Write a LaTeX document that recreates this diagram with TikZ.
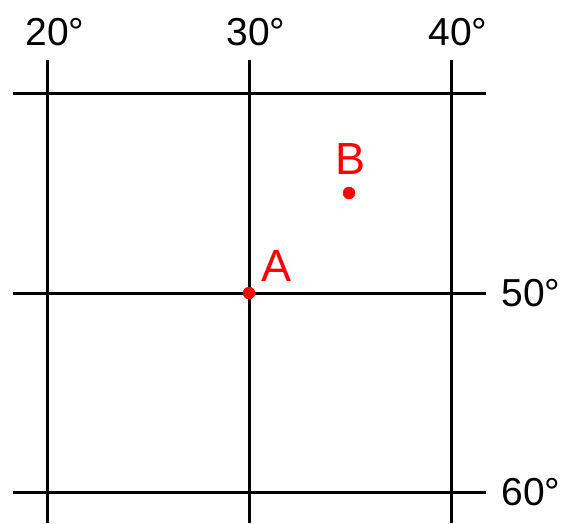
\documentclass[tikz,border=0pt]{standalone}
\usepackage{fontspec}
\setmainfont{Liberation Sans}
\usetikzlibrary{positioning}

\begin{document}
\begin{tikzpicture}[x=1pt,y=-1pt,
	gridline/.style={black,line width=3pt},
	deglabel/.style={font=\fontsize{39}{39}\selectfont,inner sep=0pt},
	ptlabel/.style={red,font=\fontsize{45}{45}\selectfont,inner sep=0pt}]

    \useasboundingbox (0,0) rectangle (563,523);

    % meridians and parallels
    \foreach \x in {47,249,451}
        \draw[gridline] (\x,60) -- (\x,523);
    \foreach \y in {93,293,492}
        \draw[gridline] (13,\y) -- (486,\y);

    \node[deglabel] (lon20) at (55,32) {20°};
    \node[deglabel] (lon30) at (256,32) {30°};
    \node[deglabel] (lon40) at (458,32) {40°};
    \node[deglabel] (lat50) at (531,293) {50°};
    \node[deglabel] (lat60) at (531,492) {60°};

    \coordinate (A) at (249,293);
    \coordinate (B) at (349,193);
    \draw[fill=red,red] (A) circle (6pt);
    \draw[fill=red,red] (B) circle (6pt);
    \node[ptlabel] (labA) at (277,266) {A};
    \node[ptlabel] (labB) at (351,159) {B};
\end{tikzpicture}
\end{document}
